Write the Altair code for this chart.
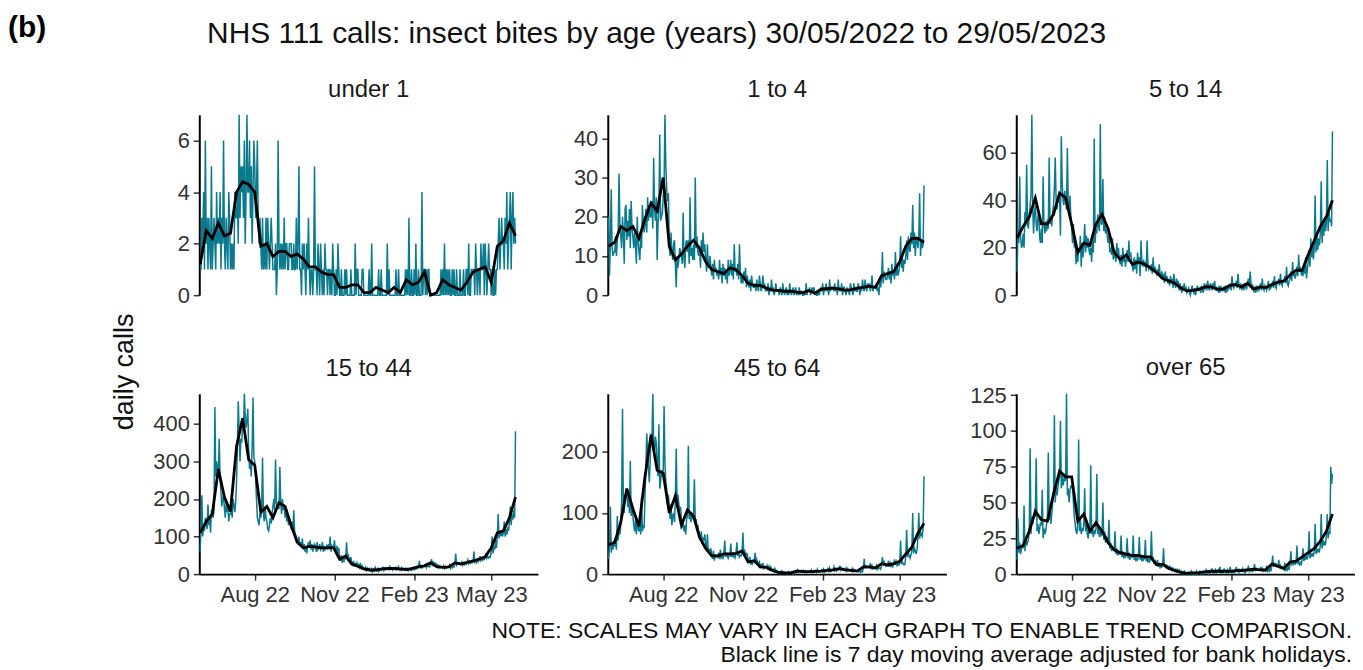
import altair as alt
import pandas as pd

FONT = "Liberation Sans"
TEAL = "#0a7b8f"

# ---------------- data: daily calls, one row per week (Mon..Sun), from 30/05/2022 ----------------
under1_rows = [
    [1,1,3,2,4,1,6],[2,3,1,3,2,1,5],[1,2,3,2,1,4,2],[3,2,4,1,3,2,6],[2,1,3,2,1,4,3],
    [1,2,1,2,1,4,3],[3,4,2,7,3,5,4],[5,3,6,2,4,7,4],[4,6,3,5,2,4,6],[5,3,4,6,3,2,3],
    [2,1,3,1,2,1,3],[1,3,2,1,2,3,2],[1,1,1,2,0,1,6],[2,1,2,1,2,1,3],[1,2,2,1,1,2,2],
    [2,1,1,2,1,1,3],[1,2,5,1,1,0,2],[1,2,1,0,2,1,3],[1,0,1,1,0,1,5],[1,1,0,2,1,0,2],
    [1,0,1,0,2,1,1],[0,1,1,0,1,0,2],[1,0,0,1,0,2,1],[0,0,1,0,0,0,1],[0,1,0,0,0,0,1],
    [0,0,0,0,2,0,1],[1,0,0,0,0,1,1],[0,0,0,0,0,0,1],[0,0,2,0,0,0,0],[0,0,0,1,0,0,1],
    [0,0,0,0,0,0,2],[0,1,0,0,0,0,0],[0,0,1,0,0,1,0],[0,0,0,0,0,0,1],[0,1,0,3,0,0,1],
    [0,0,1,0,2,0,0],[1,0,0,0,4,0,1],[1,0,1,0,1,1,0],[0,0,0,0,0,0,0],[0,0,0,0,0,1,0],
    [1,0,2,0,1,0,1],[0,1,0,0,1,0,1],[0,0,1,0,0,0,1],[0,0,0,1,0,0,1],[1,0,2,0,0,1,1],
    [1,1,0,2,1,0,1],[1,0,2,1,1,2,0],[2,1,0,1,2,1,1],[0,1,0,0,1,0,1],[1,2,3,1,2,3,2],
    [2,1,3,2,4,1,2],[3,4,1,3,4,2,3],[2],
]
age1_4_rows = [
    [20,5,14,27,12,10,11],[11,15,10,14,16,31,18],[15,12,20,16,8,22,23],[14,19,15,22,12,24,17],
    [15,12,16,13,8,20,14],[11,9,15,12,23,18,16],[18,22,16,25,19,23,20],[20,24,17,35,22,19,25],
    [9,18,22,41,19,20,21],[25,28,46,33,27,24,26],[12,10,16,11,9,13,14],[8,2,10,7,9,12,11],
    [10,8,21,9,7,13,14],[11,14,8,25,10,12,9],[13,9,30,12,15,11,10],[12,7,14,10,16,11,13],
    [9,6,13,7,8,10,7],[5,8,4,9,6,7,5],[6,4,9,5,7,3,8],[5,7,4,6,3,9,5],
    [6,9,5,8,4,13,6],[7,5,8,4,13,6,3],[5,3,6,4,7,2,5],[3,2,4,1,5,3,2],
    [2,3,1,4,2,1,5],[3,1,2,5,2,3,1],[2,1,3,0,2,1,4],[1,2,0,1,3,1,1],
    [1,0,2,1,0,3,1],[0,1,2,0,1,0,3],[1,0,1,2,0,1,2],[0,1,0,2,0,1,1],
    [0,0,1,0,3,0,1],[1,2,0,1,2,1,2],[0,1,0,0,1,0,1],[2,1,3,0,2,1,3],
    [1,2,0,4,1,2,2],[2,1,3,1,2,0,4],[1,2,1,3,0,2,2],[1,0,2,1,1,0,3],
    [2,1,0,3,1,2,1],[1,3,2,0,2,1,4],[2,1,4,2,1,3,2],[3,1,2,5,1,2,2],
    [2,3,1,2,0,4,2],[4,11,3,6,5,4,4],[5,7,4,6,3,8,5],[6,4,11,5,7,5,6],
    [8,15,7,10,6,9,8],[10,14,9,15,12,11,16],[13,23,12,16,10,15,14],[12,15,26,10,14,12,13],
    [28],
]
age5_14_rows = [
    [10,28,22,50,25,20,21],[26,20,35,29,55,30,28],[34,38,42,76,37,26,35],[38,30,27,33,35,24,22],
    [28,22,50,30,26,31,27],[32,28,58,30,33,29,35],[38,45,58,40,36,42,39],[42,25,67,48,40,38,44],
    [40,36,62,38,35,42,33],[28,22,30,20,24,13,18],[14,20,18,25,12,22,16],[21,30,18,25,20,24,19],
    [17,20,14,24,18,66,22],[28,26,34,29,27,72,30],[30,49,27,33,26,28,25],[22,25,18,20,17,24,15],
    [16,19,14,22,17,20,15],[13,17,12,20,14,16,12],[15,19,14,23,16,18,15],[12,10,16,11,15,9,18],
    [13,16,8,23,14,12,15],[12,14,10,23,13,11,12],[11,13,9,16,10,12,10],[9,11,8,13,9,7,10],
    [7,9,5,10,6,8,5],[6,4,8,5,7,3,9],[5,3,7,4,6,2,5],[3,1,4,2,5,2,3],
    [1,2,3,1,0,2,4],[2,1,3,0,2,4,2],[2,3,1,4,2,1,5],[3,4,2,6,3,2,5],
    [4,2,5,3,6,2,3],[2,3,1,4,2,3,2],[3,2,4,1,3,2,3],[3,5,2,8,4,3,4],
    [4,6,3,9,4,3,5],[3,4,2,5,3,4,3],[5,7,4,10,5,3,4],[2,3,1,4,2,3,2],
    [3,5,2,7,3,2,4],[3,2,4,6,2,3,3],[4,6,3,8,4,3,5],[5,7,4,9,5,4,6],
    [6,8,5,12,5,4,6],[7,10,6,14,8,9,7],[9,12,8,17,10,11,9],[10,8,13,9,16,7,11],
    [14,19,12,24,16,21,15],[20,42,18,26,19,24,21],[26,48,22,30,25,33,27],[30,57,27,35,31,32,29],
    [69],
]
age15_44_rows = [
    [60,120,210,100,130,115,150],[140,120,185,130,150,110,170],[160,150,170,445,260,300,280],
    [270,360,250,220,180,200,210],[175,150,190,165,180,140,160],[160,175,150,200,185,165,190],
    [250,340,460,380,300,360,350],[400,380,480,420,390,410,440],[330,280,300,260,340,470,310],
    [300,260,200,150,140,130,160],[150,170,310,160,140,180,150],[140,120,115,130,150,135,160],
    [180,200,170,305,190,180,175],[175,285,190,160,200,170,185],[150,170,140,160,130,145,135],
    [120,140,110,170,115,105,100],[90,80,100,75,85,70,95],[65,80,60,75,55,70,85],
    [70,90,65,80,60,75,80],[75,60,85,65,70,80,65],[70,85,60,75,65,70,75],
    [65,80,70,100,60,75,70],[70,90,65,60,75,55,70],[45,35,50,30,40,35,45],
    [40,85,45,50,40,35,45],[30,25,35,20,28,24,30],[20,25,18,30,16,22,18],
    [14,12,18,10,16,12,15],[10,8,14,6,12,9,18],[12,9,15,7,11,13,10],
    [14,18,10,16,12,15,13],[15,12,20,14,16,11,17],[16,13,18,12,15,20,11],
    [14,10,17,12,15,13,16],[12,15,9,14,11,13,10],[14,18,12,17,13,16,15],
    [20,35,18,22,16,19,21],[22,25,18,30,20,21,19],[28,40,26,32,27,30,29],
    [20,24,17,22,18,21,19],[17,22,15,20,16,19,18],[18,24,16,22,17,20,19],
    [28,55,25,30,27,29,26],[26,32,24,30,25,28,26],[30,38,28,33,29,31,30],
    [33,60,32,36,30,34,33],[38,48,36,42,37,40,39],[44,55,42,48,43,46,45],
    [60,100,55,75,65,90,70],[100,160,95,115,105,110,100],[110,140,100,120,105,125,115],
    [140,180,130,160,145,170,150],[380],
]
age45_64_rows = [
    [25,45,110,35,50,40,55],[45,60,40,95,55,70,65],[80,120,270,110,100,130,125],
    [135,110,125,100,185,95,110],[95,80,70,90,65,85,75],[70,90,65,125,70,80,75],
    [130,180,230,200,170,150,190],[230,220,295,210,200,225,215],[180,160,245,140,150,170,160],
    [170,275,180,150,140,115,130],[110,90,115,80,95,100,85],[120,205,110,130,115,105,110],
    [90,75,85,70,80,65,90],[95,210,90,100,85,95,90],[100,155,85,90,75,80,70],
    [65,55,70,50,60,55,65],[45,40,65,35,40,38,42],[30,25,38,22,32,28,30],
    [28,35,25,40,27,30,26],[32,55,28,35,30,26,31],[30,50,28,35,29,32,27],
    [33,52,30,36,28,31,30],[35,68,32,40,30,34,33],[22,18,28,15,20,17,21],
    [20,35,18,24,19,17,20],[12,15,10,18,9,11,12],[10,14,9,13,8,12,10],
    [6,8,4,9,5,6,4],[3,1,4,2,5,2,3],[2,3,1,2,0,4,2],
    [1,3,2,0,2,4,1],[4,7,3,6,5,4,6],[4,6,3,5,2,4,4],
    [3,5,4,7,2,4,3],[4,6,3,8,4,3,5],[5,7,4,8,3,5,4],
    [6,9,5,10,4,5,6],[7,12,6,9,5,6,7],[8,14,7,10,8,9,7],
    [6,10,5,9,6,7,6],[5,9,4,8,5,6,5],[5,7,4,6,3,5,4],
    [10,25,9,13,11,10,12],[11,18,10,14,9,12,11],[10,14,8,12,9,10,8],
    [15,28,14,20,16,13,15],[14,22,12,18,13,15,12],[16,24,15,20,14,17,15],
    [18,55,16,20,17,15,16],[30,72,28,35,30,26,32],[38,100,34,42,38,33,40],
    [60,100,58,70,65,62,75],[160],
]
over65_rows = [
    [10,39,15,22,14,18,20],[18,48,16,25,20,22,24],[30,88,28,40,35,38,42],[40,81,30,35,28,32,36],
    [34,59,25,32,28,30,35],[40,85,38,45,35,42,50],[55,111,50,62,55,60,65],[68,107,60,70,62,65,70],
    [65,126,55,60,50,58,62],[60,63,50,40,35,30,28],[35,94,30,38,28,32,30],[35,60,30,38,28,25,32],
    [30,76,28,32,26,30,29],[32,70,28,34,26,30,27],[28,50,24,30,22,26,25],[22,38,18,22,16,19,18],
    [16,30,14,18,13,15,14],[14,27,12,16,11,13,12],[13,25,11,15,10,12,12],[12,27,10,14,9,11,10],
    [12,26,10,13,9,12,10],[11,24,9,13,8,11,9],[11,30,9,12,7,10,8],[7,10,5,8,4,6,5],
    [6,18,5,7,4,6,5],[4,6,3,5,2,4,3],[2,4,1,3,2,3,2],[1,2,0,1,2,1,1],
    [0,1,0,1,0,2,0],[1,0,1,0,2,0,1],[1,2,0,1,0,2,1],[1,3,1,2,0,2,1],
    [2,4,1,2,1,3,1],[2,3,1,5,1,2,1],[1,4,2,2,1,3,1],[2,5,1,2,1,2,1],
    [2,5,2,3,1,3,2],[3,4,2,3,1,3,2],[3,6,2,3,2,3,2],[3,7,2,4,3,3,3],
    [3,5,2,4,2,3,2],[2,6,2,3,2,4,2],[6,13,5,8,6,7,5],[5,10,4,6,4,5,4],
    [3,8,2,4,3,5,3],[7,16,6,9,7,8,7],[8,20,7,9,6,8,7],[11,18,9,13,10,12,11],
    [13,30,11,15,12,14,13],[16,35,14,18,15,17,16],[20,42,18,24,20,22,21],[27,42,25,30,28,75,63],
    [70],
]

# ---------------- data: 7-day moving average (black line), one value every 7 days ----------------
under1_ma = [1.2,2.5,2.2,2.8,2.3,2.4,4.0,4.4,4.3,4.0,1.9,2.0,1.5,1.7,1.7,1.5,1.6,1.4,1.1,1.1,
             0.9,0.8,0.8,0.3,0.3,0.4,0.4,0.1,0.1,0.3,0.2,0.1,0.3,0.1,0.6,0.4,0.5,0.9,0.0,0.1,
             0.6,0.4,0.3,0.2,0.5,0.9,1.0,1.1,0.5,1.9,2.1,2.8,2.3]
age1_4_ma = [12.5,13.5,17.5,16.5,17.5,14.5,19.5,23.5,21.5,30,12.5,9,10.5,12.5,14,12,8.5,6.5,6,5.5,
             7,6.5,5,3,2.5,2.5,1.8,1.3,1.2,1.0,1.0,0.8,0.6,1.2,0.5,1.5,1.7,1.8,1.6,1.2,
             1.4,1.8,2.0,2.3,2.0,5.0,5.5,6.0,8.5,12.5,14.5,14.5,13.5]
age5_14_ma = [24,29,33,41,30,30,34,43,41,30,18,22,21,30,34,28,18,15,17,13,
              14,13,11.5,9.5,7,6,5,3,1.8,2,2.5,3.5,3.5,2.5,2.5,4,4.5,3.5,5,2.5,
              3.5,3.2,4.5,5.5,6,8.5,10.5,10.5,17,23,29,33,40]
age15_44_ma = [110,140,160,280,205,167,340,415,305,290,165,180,150,190,180,130,85,70,74,72,
               70,70,70,40,48,27,21,14,11,11,14,15,15,14,12,15,20,22,30,20,
               18,19,30,27,31,35,40,46,70,110,115,150,205]
age45_64_ma = [48,52,85,140,107,78,160,228,170,165,100,128,80,105,95,60,42,30,30,33,
               33,34,38,20,22,12,11,6,3,2,2,5,4,4,4.5,5,6,7,9,7,
               6,5,12,12,10,17,15,17,21,33,44,67,83]
over65_ma = [18,20,30,44,38,37,56,72,68,68,37,42,30,36,30,22,17,15,14,13,
             13,12,12,6.5,7,4,2.5,1.2,0.6,0.8,1,1.5,2,2,2,2,2.5,2.5,3,3.5,
             3,3,7,5.5,4,8.5,9,12,15,18,23,30,42]

panel_titles = ["under 1", "1 to 4", "5 to 14", "15 to 44", "45 to 64", "over 65"]
panel_rows = [under1_rows, age1_4_rows, age5_14_rows, age15_44_rows, age45_64_rows, over65_rows]
panel_ma = [under1_ma, age1_4_ma, age5_14_ma, age15_44_ma, age45_64_ma, over65_ma]
panel_yticks = [[0, 2, 4, 6], [0, 10, 20, 30, 40], [0, 20, 40, 60],
                [0, 100, 200, 300, 400], [0, 100, 200], [0, 25, 50, 75, 100, 125]]
panel_title_offset = [-14, -14, -14, -14, -14, -20]

main_title = "NHS 111 calls: insect bites by age (years) 30/05/2022 to 29/05/2023"
panel_label = "(b)"
y_label = "daily calls"
note_lines = ["NOTE: SCALES MAY VARY IN EACH GRAPH TO ENABLE TREND COMPARISON.",
              "Black line is 7 day moving average adjusted for bank holidays."]

dates = pd.date_range("2022-05-30", periods=365, freq="D").strftime("%Y-%m-%d").tolist()
ma_dates = dates[::7]

X_DOMAIN = [alt.DateTime(year=2022, month=5, date=29, utc=True),
            alt.DateTime(year=2023, month=6, date=24, utc=True)]
X_TICKS = [alt.DateTime(year=2022, month=8, date=1, utc=True),
           alt.DateTime(year=2022, month=11, date=1, utc=True),
           alt.DateTime(year=2023, month=2, date=1, utc=True),
           alt.DateTime(year=2023, month=5, date=1, utc=True)]

PW, PH = 340, 181


def make_panel(i):
    title, rows, ma, yticks = panel_titles[i], panel_rows[i], panel_ma[i], panel_yticks[i]
    bottom = i >= 3
    daily = [v for r in rows for v in r]
    assert len(daily) == 365, (title, len(daily))
    assert len(ma) == 53, (title, len(ma))
    d1 = pd.DataFrame({"date": dates, "calls": daily})
    d2 = pd.DataFrame({"date": ma_dates, "calls": ma})
    if bottom:
        xaxis = alt.Axis(values=X_TICKS, format="%b %y", title=None, labelFlush=False)
    else:
        xaxis = None
    x = alt.X("date:T", scale=alt.Scale(type="utc", domain=X_DOMAIN), axis=xaxis, title=None)
    y = alt.Y("calls:Q", scale=alt.Scale(domain=[0, max(daily)], nice=False, zero=True),
              axis=alt.Axis(values=yticks, minExtent=60, title=None), title=None)
    teal = alt.Chart(d1).mark_line(color=TEAL, strokeWidth=1.5).encode(x=x, y=y)
    black = alt.Chart(d2).mark_line(color="black", strokeWidth=2.8).encode(x=x, y=y)
    return alt.layer(teal, black).properties(
        width=PW, height=PH,
        title=alt.TitleParams(title, font=FONT, fontSize=24, fontWeight="normal", color="#1a1a1a",
                              anchor="middle", frame="group", offset=panel_title_offset[i],
                              baseline="bottom"))


panels = [make_panel(i) for i in range(6)]
row1 = alt.hconcat(*panels[:3], spacing=10)
row2 = alt.hconcat(*panels[3:], spacing=10)
grid = alt.vconcat(row1, row2, spacing=50)

TOTAL_W = 1352
YLAB_W = 132

ylab = alt.Chart(pd.DataFrame({"t": [y_label]})).mark_text(
    angle=270, font=FONT, fontSize=27, color="#111111", align="center", baseline="middle"
).encode(text="t:N", x=alt.value(117), y=alt.value(258)).properties(width=YLAB_W, height=380)

body = alt.hconcat(ylab, grid, spacing=0)

header = alt.layer(
    alt.Chart(pd.DataFrame({"t": [panel_label]})).mark_text(
        font=FONT, fontSize=30, fontWeight="bold", color="black", align="left", baseline="middle"
    ).encode(text="t:N", x=alt.value(0), y=alt.value(19)),
    alt.Chart(pd.DataFrame({"t": [main_title]})).mark_text(
        font=FONT, fontSize=30, color="#111111", align="center", baseline="middle"
    ).encode(text="t:N", x=alt.value(651), y=alt.value(25)),
).properties(width=TOTAL_W, height=69)

footer = alt.layer(
    alt.Chart(pd.DataFrame({"t": [note_lines[0]]})).mark_text(
        font=FONT, fontSize=23, color="#111111", align="right", baseline="middle"
    ).encode(text="t:N", x=alt.value(TOTAL_W - 3), y=alt.value(26)),
    alt.Chart(pd.DataFrame({"t": [note_lines[1]]})).mark_text(
        font=FONT, fontSize=23, color="#111111", align="right", baseline="middle"
    ).encode(text="t:N", x=alt.value(TOTAL_W - 3), y=alt.value(50)),
).properties(width=TOTAL_W, height=50)

chart = alt.vconcat(header, body, footer, spacing=0).properties(
    padding={"left": 0, "top": 0, "right": 0, "bottom": 0}
).configure_view(stroke=None).configure_axis(
    grid=False, domainColor="black", domainWidth=2, tickColor="#333333", tickWidth=1.5,
    tickSize=6, labelFont=FONT, labelFontSize=22, labelColor="#333333", labelPadding=4
)

chart.save("out.html", embed_options={"renderer": "svg", "actions": False})
